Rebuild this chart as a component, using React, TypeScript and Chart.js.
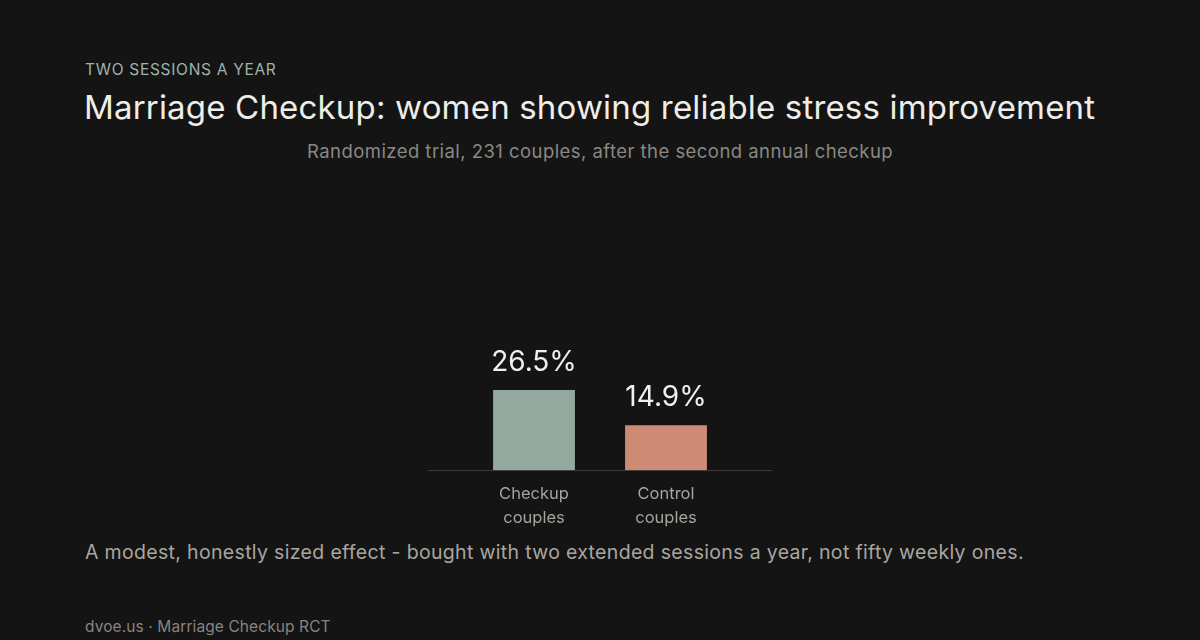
import React, { useEffect, useRef } from "react";
import { Chart, registerables } from "chart.js";

Chart.register(...registerables);

const categories: string[][] = [["Checkup", "couples"], ["Control", "couples"]];
const values: number[] = [26.5, 14.9];
const barColors: string[] = ["#93a89e", "#cd8a74"];
const yMax = 100;

const FONT = "Inter, 'Noto Sans', sans-serif";

const valueLabels = {
  id: "valueLabels",
  afterDatasetsDraw(chart: any) {
    const { ctx } = chart;
    const meta = chart.getDatasetMeta(0);
    ctx.save();
    ctx.fillStyle = "#f1f0eb";
    ctx.font = `400 28px ${FONT}`;
    ctx.textAlign = "center";
    ctx.textBaseline = "bottom";
    meta.data.forEach((bar: any, i: number) => {
      ctx.fillText(values[i].toFixed(1) + "%", bar.x, bar.y - 14);
    });
    ctx.restore();
  },
};

const baseline = {
  id: "baseline",
  beforeDatasetsDraw(chart: any) {
    const { ctx, width } = chart;
    const y = Math.round(chart.scales.y.getPixelForValue(0)) + 0.5;
    ctx.save();
    ctx.strokeStyle = "#3a3a3a";
    ctx.lineWidth = 1;
    ctx.beginPath();
    ctx.moveTo(0, y);
    ctx.lineTo(width, y);
    ctx.stroke();
    ctx.restore();
  },
};

export default function App() {
  const ref = useRef<HTMLCanvasElement>(null);
  useEffect(() => {
    document.body.style.margin = "0";
    document.body.style.background = "#141414";
    const chart = new Chart(ref.current!, {
      type: "bar",
      data: {
        labels: categories,
        datasets: [
          {
            data: values,
            backgroundColor: barColors,
            borderWidth: 0,
            barPercentage: 0.62,
            categoryPercentage: 1,
          },
        ],
      },
      options: {
        animation: false,
        responsive: true,
        maintainAspectRatio: false,
        layout: { padding: { left: 40, right: 40, top: 0, bottom: 0 } },
        plugins: { legend: { display: false }, tooltip: { enabled: false } },
        scales: {
          x: {
            grid: { display: false },
            border: { display: false },
            ticks: {
              color: "#a8a49d",
              font: { family: FONT, size: 16.5, lineHeight: 1.45 },
              padding: 4,
            },
          },
          y: {
            display: false,
            min: 0,
            max: yMax,
          },
        },
      },
      plugins: [valueLabels, baseline],
    });
    return () => chart.destroy();
  }, []);

  const base: React.CSSProperties = { position: "absolute", fontFamily: FONT, margin: 0, whiteSpace: "nowrap" };

  return (
    <div style={{ position: "fixed", left: 0, top: 0, width: 1200, height: 640, background: "#141414", overflow: "hidden" }}>
      <div style={{ ...base, left: 85, top: 60, fontSize: 15.5, color: "#9fb5aa", letterSpacing: 0.7 }}>TWO SESSIONS A YEAR</div>
      <div style={{ ...base, left: 84, top: 87, fontSize: 33, color: "#eeede8", letterSpacing: 0.18 }}>
        Marriage Checkup: women showing reliable stress improvement
      </div>
      <div style={{ ...base, left: 0, width: 1200, textAlign: "center", top: 140, fontSize: 18.5, color: "#8a8883", letterSpacing: 0.45 }}>
        Randomized trial, 231 couples, after the second annual checkup
      </div>
      <div style={{ position: "absolute", left: 428, top: 168, width: 344, height: 366 }}>
        <canvas ref={ref} />
      </div>
      <div style={{ ...base, left: 85, top: 540, fontSize: 19.5, color: "#aaa69f", letterSpacing: 0.33 }}>
        A modest, honestly sized effect - bought with two extended sessions a year, not fifty weekly ones.
      </div>
      <div style={{ ...base, left: 85, top: 617, fontSize: 15.5, color: "#878580", letterSpacing: 0.1 }}>dvoe.us · Marriage Checkup RCT</div>
    </div>
  );
}
